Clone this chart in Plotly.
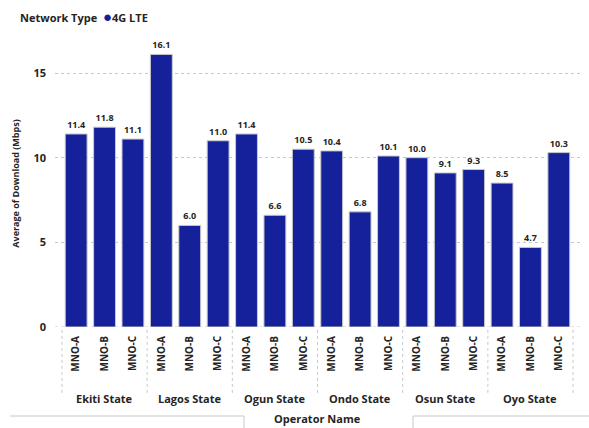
import plotly.graph_objects as go

# Average 4G LTE download speed per operator, grouped by state
states = ["Ekiti State", "Lagos State", "Ogun State", "Ondo State", "Osun State", "Oyo State"]
operators = ["MNO-A", "MNO-B", "MNO-C"]
download_mbps = [
    11.4, 11.8, 11.1,   # Ekiti
    16.1, 6.0, 11.0,    # Lagos
    11.4, 6.6, 10.5,    # Ogun
    10.4, 6.8, 10.1,    # Ondo
    10.0, 9.1, 9.3,     # Osun
    8.5, 4.7, 10.3,     # Oyo
]

BAR = "#14219a"
TXT = "#252423"
FONT = "Open Sans"

n_ops = len(operators)
xpos = list(range(len(download_mbps)))
op_labels = [operators[i % n_ops] for i in xpos]

fig = go.Figure(go.Bar(
    x=xpos,
    y=download_mbps,
    width=0.77,
    marker=dict(color=BAR, line=dict(color="#c9c9c9", width=1)),
    text=[f"{v:.1f}" for v in download_mbps],
    textposition="outside",
    textfont=dict(family=FONT, size=9, color=TXT, weight="bold"),
    cliponaxis=False,
    showlegend=False,
    hovertemplate="%{y:.1f}<extra></extra>",
))

L, R, T, B = 55, 9, 40, 101
W, H = 589, 428
plot_w = W - L - R

fig.update_layout(
    width=W, height=H,
    margin=dict(l=L, r=R, t=T, b=B),
    plot_bgcolor="white", paper_bgcolor="white",
    font=dict(family=FONT, color=TXT),
    bargap=0.2,
    xaxis=dict(
        range=[-0.745, len(xpos) - 1 + 0.745],
        tickmode="array", tickvals=xpos, ticktext=op_labels,
        tickangle=-90, ticks="", showgrid=False, zeroline=False,
        tickfont=dict(family=FONT, size=10, color=TXT, weight="bold"),
        ticklabelstandoff=6,
    ),
    yaxis=dict(
        range=[0, 16.95], tickvals=[0, 5, 10, 15],
        showgrid=True, gridcolor="#c8c8c8", griddash="dot", gridwidth=1,
        zeroline=False, ticks="",
        tickfont=dict(family=FONT, size=11, color=TXT, weight="bold"),
        ticklabelstandoff=8,
        title=dict(text="Average of Download (Mbps)", standoff=12,
                   font=dict(family=FONT, size=9, color=TXT, weight="bold")),
    ),
)

# dotted baseline at zero
fig.add_shape(type="line", xref="paper", yref="y", x0=0, x1=1, y0=0, y1=0,
              line=dict(color="#c8c8c8", width=1, dash="dot"), layer="below")

# group separators and state names under the operator labels
for g, st in enumerate(states):
    left = g * n_ops - 0.5
    fig.add_shape(type="line", xref="x", yref="paper", x0=left, x1=left,
                  y0=-0.01, y1=-0.24, line=dict(color="#c8c8c8", width=1, dash="dot"))
    fig.add_annotation(x=g * n_ops + (n_ops - 1) / 2, xref="x", y=-0.25, yref="paper",
                       text=st, showarrow=False, yanchor="middle",
                       font=dict(family=FONT, size=11, color=TXT, weight="bold"))
last = len(xpos) - 0.5
fig.add_shape(type="line", xref="x", yref="paper", x0=last, x1=last,
              y0=-0.01, y1=-0.24, line=dict(color="#c8c8c8", width=1, dash="dot"))

# axis title for the operator dimension
fig.add_annotation(x=0.5, xref="paper", y=(H - 418 - B) / (H - T - B), yref="paper",
                   text="Operator Name", showarrow=False, yanchor="middle",
                   font=dict(family=FONT, size=11, color=TXT, weight="bold"))

# legend header
fig.add_annotation(x=(18 - L) / plot_w, xref="paper", y=(H - 16 - B) / (H - T - B), yref="paper",
                   xanchor="left", yanchor="middle", showarrow=False,
                   text=(f"Network Type  <span style='color:{BAR};font-size:15px'>●</span>"
                         "<span style='font-size:11px'>4G LTE</span>"),
                   font=dict(family=FONT, size=11, color=TXT, weight="bold"))

# frame lines along the bottom edge
def px(xp):
    return (xp - L) / plot_w

def py(yp):
    return (H - yp - B) / (H - T - B)

for xa, xb, xv in [(10, 244, 244), (413, 589, 413)]:
    fig.add_shape(type="line", xref="paper", yref="paper", x0=px(xa), x1=px(xb),
                  y0=py(416), y1=py(416), line=dict(color="#c8c8c8", width=1))
    fig.add_shape(type="line", xref="paper", yref="paper", x0=px(xv), x1=px(xv),
                  y0=py(416), y1=py(428), line=dict(color="#c8c8c8", width=1))

fig.write_html("out.html")
